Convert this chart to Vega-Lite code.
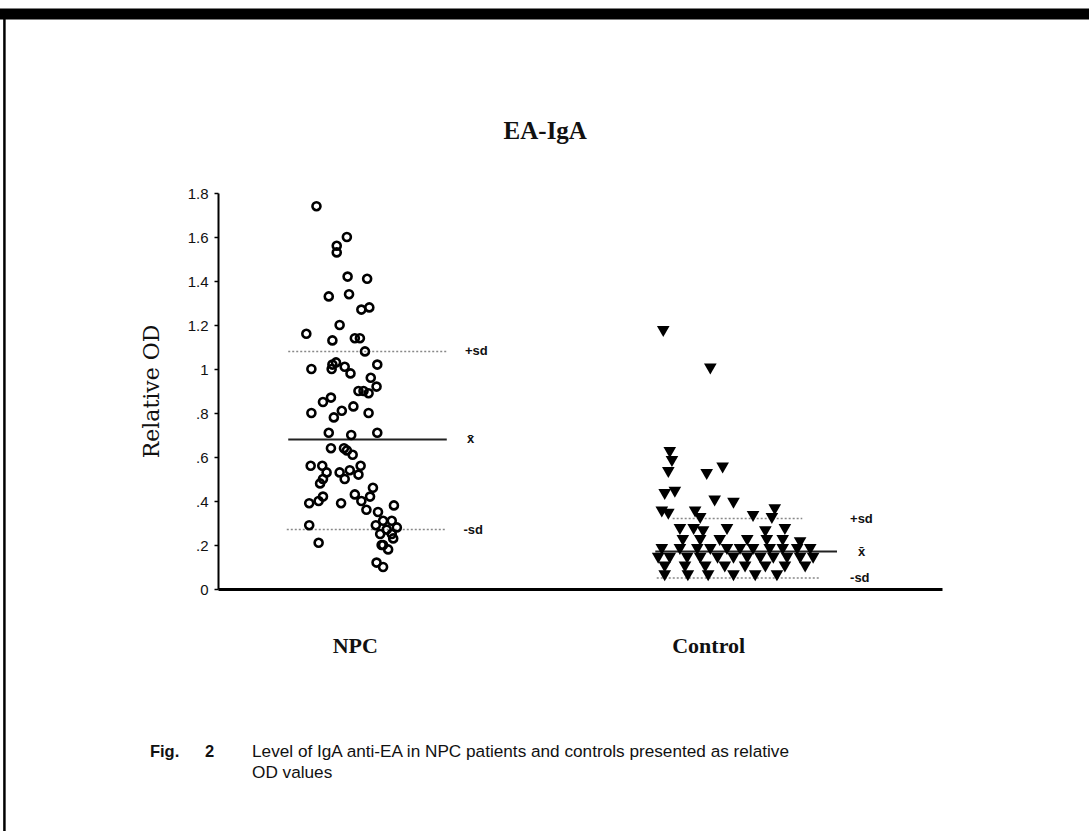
{
  "$schema": "https://vega.github.io/schema/vega-lite/v6.json",
  "width": 724,
  "height": 396,
  "autosize": {"type": "none"},
  "padding": {"left": 218, "top": 193, "right": 147, "bottom": 242},
  "background": "white",
  "config": {"view": {"stroke": null}, "font": "Liberation Sans"},
  "datasets": {
    "npc": [
      {"spread": 1.36, "od": 1.74}, {"spread": 1.78, "od": 1.60}, {"spread": 1.64, "od": 1.56}, {"spread": 1.64, "od": 1.53},
      {"spread": 1.79, "od": 1.42}, {"spread": 2.06, "od": 1.41}, {"spread": 1.53, "od": 1.33}, {"spread": 1.81, "od": 1.34},
      {"spread": 1.98, "od": 1.27}, {"spread": 2.09, "od": 1.28}, {"spread": 1.22, "od": 1.16}, {"spread": 1.68, "od": 1.20},
      {"spread": 1.58, "od": 1.13}, {"spread": 1.89, "od": 1.14}, {"spread": 1.96, "od": 1.14}, {"spread": 2.03, "od": 1.08},
      {"spread": 1.29, "od": 1.00}, {"spread": 1.58, "od": 1.02}, {"spread": 1.63, "od": 1.03}, {"spread": 1.57, "od": 1.00},
      {"spread": 1.75, "od": 1.01}, {"spread": 1.83, "od": 0.98}, {"spread": 2.20, "od": 1.02}, {"spread": 2.11, "od": 0.96},
      {"spread": 2.19, "od": 0.92}, {"spread": 1.94, "od": 0.90}, {"spread": 2.01, "od": 0.90}, {"spread": 2.08, "od": 0.89},
      {"spread": 1.45, "od": 0.85}, {"spread": 1.56, "od": 0.87}, {"spread": 1.29, "od": 0.80}, {"spread": 1.60, "od": 0.78},
      {"spread": 1.71, "od": 0.81}, {"spread": 1.87, "od": 0.83}, {"spread": 2.08, "od": 0.80}, {"spread": 1.53, "od": 0.71},
      {"spread": 1.84, "od": 0.70}, {"spread": 2.20, "od": 0.71}, {"spread": 1.56, "od": 0.64}, {"spread": 1.74, "od": 0.64},
      {"spread": 1.78, "od": 0.63}, {"spread": 1.86, "od": 0.61}, {"spread": 1.28, "od": 0.56}, {"spread": 1.44, "od": 0.56},
      {"spread": 1.50, "od": 0.53}, {"spread": 1.45, "od": 0.50}, {"spread": 1.41, "od": 0.48}, {"spread": 1.68, "od": 0.53},
      {"spread": 1.75, "od": 0.50}, {"spread": 1.82, "od": 0.54}, {"spread": 1.94, "od": 0.52}, {"spread": 1.97, "od": 0.56},
      {"spread": 1.26, "od": 0.39}, {"spread": 1.39, "od": 0.40}, {"spread": 1.45, "od": 0.42}, {"spread": 1.70, "od": 0.39},
      {"spread": 1.89, "od": 0.43}, {"spread": 1.98, "od": 0.40}, {"spread": 2.05, "od": 0.36}, {"spread": 2.14, "od": 0.46},
      {"spread": 2.10, "od": 0.42}, {"spread": 1.26, "od": 0.29}, {"spread": 1.39, "od": 0.21}, {"spread": 2.21, "od": 0.35},
      {"spread": 2.43, "od": 0.38}, {"spread": 2.18, "od": 0.29}, {"spread": 2.28, "od": 0.31}, {"spread": 2.40, "od": 0.31},
      {"spread": 2.47, "od": 0.28}, {"spread": 2.33, "od": 0.27}, {"spread": 2.40, "od": 0.25}, {"spread": 2.42, "od": 0.23},
      {"spread": 2.28, "od": 0.20}, {"spread": 2.35, "od": 0.18}, {"spread": 2.19, "od": 0.12}, {"spread": 2.28, "od": 0.10},
      {"spread": 2.26, "od": 0.20}, {"spread": 2.24, "od": 0.25}
    ],
    "control": [
      {"spread": 6.15, "od": 1.17}, {"spread": 6.80, "od": 1.00}, {"spread": 6.24, "od": 0.62}, {"spread": 6.27, "od": 0.58},
      {"spread": 6.22, "od": 0.53}, {"spread": 6.75, "od": 0.52}, {"spread": 6.97, "od": 0.55}, {"spread": 6.17, "od": 0.43},
      {"spread": 6.31, "od": 0.44}, {"spread": 6.13, "od": 0.35}, {"spread": 6.22, "od": 0.34}, {"spread": 6.59, "od": 0.35},
      {"spread": 6.66, "od": 0.32}, {"spread": 6.86, "od": 0.40}, {"spread": 7.12, "od": 0.39}, {"spread": 7.39, "od": 0.33},
      {"spread": 7.69, "od": 0.36}, {"spread": 7.65, "od": 0.32}, {"spread": 6.38, "od": 0.27}, {"spread": 6.57, "od": 0.27},
      {"spread": 6.70, "od": 0.26}, {"spread": 7.03, "od": 0.27}, {"spread": 7.56, "od": 0.26}, {"spread": 7.83, "od": 0.27},
      {"spread": 6.42, "od": 0.22}, {"spread": 6.66, "od": 0.22}, {"spread": 6.93, "od": 0.22}, {"spread": 7.31, "od": 0.22},
      {"spread": 7.58, "od": 0.22}, {"spread": 7.80, "od": 0.22}, {"spread": 8.04, "od": 0.21},
      {"spread": 6.13, "od": 0.18}, {"spread": 6.38, "od": 0.18}, {"spread": 6.62, "od": 0.18}, {"spread": 6.80, "od": 0.18},
      {"spread": 7.03, "od": 0.18}, {"spread": 7.21, "od": 0.18}, {"spread": 7.39, "od": 0.18}, {"spread": 7.62, "od": 0.18},
      {"spread": 7.80, "od": 0.18}, {"spread": 8.00, "od": 0.18}, {"spread": 8.18, "od": 0.18},
      {"spread": 6.08, "od": 0.14}, {"spread": 6.24, "od": 0.14}, {"spread": 6.48, "od": 0.14}, {"spread": 6.66, "od": 0.14},
      {"spread": 6.90, "od": 0.14}, {"spread": 7.12, "od": 0.14}, {"spread": 7.31, "od": 0.14}, {"spread": 7.49, "od": 0.14},
      {"spread": 7.67, "od": 0.14}, {"spread": 7.86, "od": 0.14}, {"spread": 8.04, "od": 0.14}, {"spread": 8.22, "od": 0.14},
      {"spread": 6.17, "od": 0.10}, {"spread": 6.45, "od": 0.10}, {"spread": 6.73, "od": 0.10}, {"spread": 7.00, "od": 0.10},
      {"spread": 7.28, "od": 0.10}, {"spread": 7.56, "od": 0.10}, {"spread": 7.83, "od": 0.10}, {"spread": 8.11, "od": 0.10},
      {"spread": 6.17, "od": 0.06}, {"spread": 6.49, "od": 0.06}, {"spread": 6.77, "od": 0.06}, {"spread": 7.12, "od": 0.06},
      {"spread": 7.42, "od": 0.06}, {"spread": 7.72, "od": 0.06}
    ],
    "stats": [
      {"group": "NPC", "kind": "sd", "label": "+sd", "od": 1.08, "x1": 0.97, "x2": 3.16, "lx": 3.41},
      {"group": "NPC", "kind": "mean", "label": "x\u0304", "od": 0.68, "x1": 0.97, "x2": 3.16, "lx": 3.44},
      {"group": "NPC", "kind": "sd", "label": "-sd", "od": 0.27, "x1": 0.95, "x2": 3.16, "lx": 3.39},
      {"group": "Control", "kind": "sd", "label": "+sd", "od": 0.32, "x1": 6.28, "x2": 8.07, "lx": 8.73},
      {"group": "Control", "kind": "mean", "label": "x\u0304", "od": 0.17, "x1": 6.04, "x2": 8.55, "lx": 8.84},
      {"group": "Control", "kind": "sd", "label": "-sd", "od": 0.05, "x1": 6.06, "x2": 8.31, "lx": 8.73}
    ]
  },
  "layer": [
    {
      "data": {"name": "stats"},
      "mark": {"type": "rule"},
      "encoding": {
        "x": {"field": "x1", "type": "quantitative", "scale": {"domain": [0, 10]},
          "axis": {"values": [1.89, 6.77], "labelExpr": "datum.value < 4 ? 'NPC' : 'Control'", "ticks": false, "grid": false, "title": null,
            "domainColor": "#000", "domainWidth": 3, "labelFont": "Liberation Serif", "labelFontSize": 22, "labelFontWeight": "bold",
            "labelPadding": 46, "labelColor": "#111"}},
        "x2": {"field": "x2"},
        "y": {"field": "od", "type": "quantitative", "scale": {"domain": [0, 1.8]},
          "axis": {"values": [0, 0.2, 0.4, 0.6, 0.8, 1, 1.2, 1.4, 1.6, 1.8],
            "labelExpr": "datum.value == 0 ? '0' : (datum.value == 1 ? '1' : (datum.value > 1 ? format(datum.value, '.1f') : replace(format(datum.value, '.1f'), '0.', '.')))",
            "grid": false, "tickSize": 4, "tickWidth": 1.5, "tickColor": "#000", "domainWidth": 2, "domainColor": "#000",
            "labelFont": "Liberation Sans", "labelFontSize": 15, "labelPadding": 6, "labelColor": "#111",
            "title": "Relative OD", "titleFont": "DejaVu Serif", "titleFontSize": 22, "titleFontWeight": "normal", "titleColor": "#111", "titlePadding": 24}},
        "color": {"field": "kind", "type": "nominal", "scale": {"domain": ["mean", "sd"], "range": ["#222", "#888"]}, "legend": null},
        "strokeDash": {"field": "kind", "type": "nominal", "scale": {"domain": ["mean", "sd"], "range": [[1, 0], [2, 2]]}, "legend": null},
        "strokeWidth": {"field": "kind", "type": "nominal", "scale": {"domain": ["mean", "sd"], "range": [2, 1.5]}, "legend": null}
      }
    },
    {
      "data": {"name": "npc"},
      "mark": {"type": "point", "shape": "circle", "filled": false, "stroke": "#000", "strokeWidth": 2.6, "size": 64, "opacity": 1},
      "encoding": {
        "x": {"field": "spread", "type": "quantitative"},
        "y": {"field": "od", "type": "quantitative"}
      }
    },
    {
      "data": {"name": "control"},
      "mark": {"type": "point", "shape": "triangle-down", "filled": true, "color": "#000", "size": 160, "opacity": 1},
      "encoding": {
        "x": {"field": "spread", "type": "quantitative"},
        "y": {"field": "od", "type": "quantitative"}
      }
    },
    {
      "data": {"name": "stats"},
      "mark": {"type": "text", "align": "left", "baseline": "middle", "font": "Liberation Sans", "fontSize": 13, "fontWeight": "bold", "color": "#111"},
      "encoding": {
        "x": {"field": "lx", "type": "quantitative"},
        "y": {"field": "od", "type": "quantitative"},
        "text": {"field": "label"}
      }
    },
    {
      "data": {"values": [{}]},
      "mark": {"type": "text", "align": "center", "baseline": "alphabetic", "font": "Liberation Serif", "fontSize": 25, "fontWeight": "bold", "color": "#111"},
      "encoding": {"x": {"datum": 4.52}, "y": {"datum": 2.045}, "text": {"value": "EA-IgA"}}
    },
    {
      "data": {"values": [{}]},
      "mark": {"type": "rule", "color": "#000", "strokeWidth": 11, "clip": false},
      "encoding": {"x": {"datum": -3.1}, "x2": {"datum": 12.2}, "y": {"datum": 2.614}}
    },
    {
      "data": {"values": [{}]},
      "mark": {"type": "rule", "color": "#000", "strokeWidth": 2.5, "clip": false},
      "encoding": {"x": {"datum": -2.95}, "y": {"datum": 2.6}, "y2": {"datum": -1.2}}
    },
    {
      "data": {"values": [{}]},
      "mark": {"type": "text", "align": "left", "baseline": "alphabetic", "font": "Liberation Sans", "fontSize": 16.5, "fontWeight": "bold", "color": "#111"},
      "encoding": {"x": {"datum": -0.94}, "y": {"datum": -0.764}, "text": {"value": "Fig."}}
    },
    {
      "data": {"values": [{}]},
      "mark": {"type": "text", "align": "left", "baseline": "alphabetic", "font": "Liberation Sans", "fontSize": 16.5, "fontWeight": "bold", "color": "#111"},
      "encoding": {"x": {"datum": -0.18}, "y": {"datum": -0.764}, "text": {"value": "2"}}
    },
    {
      "data": {"values": [{}]},
      "mark": {"type": "text", "align": "left", "baseline": "alphabetic", "font": "Liberation Sans", "fontSize": 17.2, "color": "#111", "lineHeight": 21},
      "encoding": {"x": {"datum": 0.47}, "y": {"datum": -0.764}, "text": {"value": ["Level of IgA anti-EA in NPC patients and controls presented as relative", "OD values"]}}
    }
  ]
}
